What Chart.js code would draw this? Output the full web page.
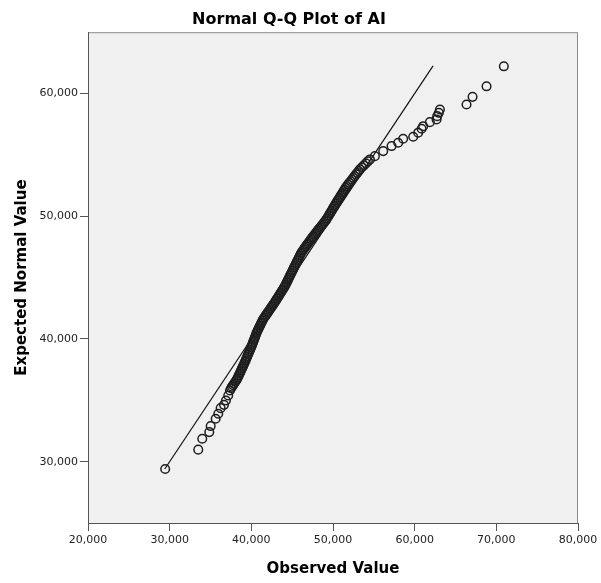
<!DOCTYPE html>
<html lang="en">
<head>
    <meta charset="UTF-8">
    <title>Normal Q-Q Plot of AI</title>
    <script src="https://cdn.jsdelivr.net/npm/chart.js"></script>
    <style>
        body { margin: 0; background: #fff; }
        #qqChart { display: block; }
    </style>
</head>
<body>
    <canvas id="qqChart" width="601" height="583"></canvas>

    <script>
// Valores observados (eixo X)
const observedValues = [
    29450, 33500, 33990, 34850, 35020, 35630, 35950, 36240, 36650, 36890, 37170, 37380,
    37510, 37640, 37770, 37890, 38020, 38150, 38270,
    38370, 38460, 38560, 38650, 38750, 38840, 38940, 39030, 39120, 39220,
    39310, 39400, 39490, 39580, 39670, 39770, 39860, 39950, 40040,
    40120, 40200, 40280, 40360, 40440, 40520, 40600, 40690,
    40780, 40880, 40970, 41070, 41170, 41260, 41360, 41460,
    41590, 41720, 41850, 41980, 42110, 42240, 42370, 42500, 42630, 42760, 42890,
    43010, 43130, 43260, 43380, 43500, 43620, 43750, 43870, 43990, 44110,
    44220, 44320, 44420, 44520, 44620, 44720, 44820, 44930, 45030, 45130,
    45230, 45330, 45440, 45540, 45640, 45750, 45850, 45950, 46050, 46160,
    46290, 46420, 46540, 46670, 46800, 46930, 47060, 47190, 47320, 47450, 47580,
    47720, 47860, 48000, 48140, 48280, 48430, 48570, 48710, 48850, 48990, 49130,
    49250, 49370, 49490, 49610, 49730, 49850, 49960, 50080, 50200, 50320, 50440,
    50560, 50690, 50810, 50930, 51050, 51180, 51300, 51420, 51540, 51670,
    51830, 51990, 52160, 52320, 52480, 52640, 52810, 52970, 53130, 53290,
    53540, 53780, 54030, 54270, 54520,
    55130, 56150, 57170, 57980, 58590, 59820, 60430, 60850, 61040, 61860, 62680, 62760, 62960, 63090,
    66350, 67090, 68800, 70920
];

// Valores normais esperados (eixo Y)
const expectedValues = [
    29400, 30980, 31870, 32410, 32900, 33500, 33900, 34360, 34630, 34980, 35390, 35800,
    35980, 36110, 36240, 36360, 36490, 36620, 36750,
    36890, 37030, 37160, 37300, 37440, 37580, 37720, 37850, 37990, 38130,
    38270, 38420, 38560, 38710, 38850, 38990, 39140, 39290, 39430,
    39570, 39720, 39860, 40000, 40140, 40280, 40430, 40570,
    40700, 40830, 40970, 41100, 41230, 41360, 41490, 41630,
    41750, 41880, 42000, 42130, 42250, 42380, 42510, 42630, 42760, 42880, 43010,
    43140, 43270, 43400, 43530, 43660, 43790, 43920, 44050, 44180, 44310,
    44450, 44590, 44720, 44860, 45000, 45140, 45280, 45420, 45550, 45690,
    45830, 45970, 46110, 46240, 46380, 46520, 46660, 46800, 46940, 47070,
    47190, 47310, 47430, 47550, 47670, 47780, 47900, 48020, 48140, 48260, 48370,
    48490, 48610, 48730, 48850, 48970, 49080, 49200, 49320, 49440, 49560, 49680,
    49810, 49940, 50070, 50210, 50340, 50470, 50610, 50740, 50870, 51010, 51140,
    51270, 51400, 51530, 51660, 51790, 51920, 52050, 52180, 52310, 52440,
    52580, 52720, 52850, 52990, 53130, 53270, 53410, 53540, 53680, 53820,
    53990, 54150, 54310, 54470, 54630,
    54900, 55310, 55720, 55990, 56320, 56480, 56810, 57130, 57340, 57670, 57890, 58160, 58430, 58700,
    59110, 59730, 60590, 62220
];

// Extremos da linha de referência (y = x)
const referenceLine = [29400, 62250];

// Marcas dos eixos
const xTicks = [20000, 30000, 40000, 50000, 60000, 70000, 80000];
const yTicks = [30000, 40000, 50000, 60000];
const xRange = [20000, 80000];
const yRange = [25000, 65000];

const points = observedValues.map((v, i) => ({ x: v, y: expectedValues[i] }));
const linePoints = referenceLine.map(v => ({ x: v, y: v }));

// Fundo cinza e moldura da área do gráfico
const plotFrame = {
    id: 'plotFrame',
    beforeDraw(chart) {
        const { ctx, chartArea: a } = chart;
        ctx.save();
        ctx.fillStyle = '#f0f0f0';
        ctx.fillRect(a.left, a.top, a.right - a.left, a.bottom - a.top);
        ctx.strokeStyle = '#8c8c8c';
        ctx.lineWidth = 1;
        ctx.strokeRect(a.left + 0.5, a.top + 0.5, a.right - a.left - 1, a.bottom - a.top);
        ctx.restore();
    }
};

const tickFont = { family: 'DejaVu Sans', size: 11 };
const titleFont = { family: 'DejaVu Sans', size: 15, weight: 'bold', lineHeight: 1.2 };

new Chart(document.getElementById('qqChart'), {
    type: 'scatter',
    data: {
        datasets: [
            {
                data: points,
                pointStyle: 'circle',
                pointRadius: 4.3,
                pointHoverRadius: 4.3,
                borderWidth: 1.5,
                borderColor: '#1e1e1e',
                backgroundColor: 'rgba(0,0,0,0)'
            },
            {
                data: linePoints,
                showLine: true,
                pointRadius: 0,
                borderWidth: 1.2,
                borderColor: '#111'
            }
        ]
    },
    options: {
        responsive: false,
        animation: false,
        layout: { padding: { top: 0, right: 23, bottom: 0, left: 0 } },
        plugins: {
            legend: { display: false },
            tooltip: { enabled: false },
            title: {
                display: true,
                text: 'Normal Q-Q Plot of AI',
                color: '#000',
                font: { family: 'DejaVu Sans', size: 16, weight: 'bold', lineHeight: 1.2 },
                padding: { top: 10, bottom: 3 }
            }
        },
        scales: {
            x: {
                type: 'linear',
                min: xRange[0],
                max: xRange[1],
                afterBuildTicks: s => { s.ticks = xTicks.map(v => ({ value: v })); },
                afterFit: s => { s.height = 60; },
                grid: { drawOnChartArea: false, drawTicks: true, tickLength: 8, color: '#555' },
                border: { display: true, color: '#555', width: 1 },
                ticks: {
                    callback: v => v.toLocaleString('en-US'),
                    font: tickFont,
                    color: '#222',
                    padding: 3,
                    maxRotation: 0,
                    autoSkip: false
                },
                title: {
                    display: true,
                    text: 'Observed Value',
                    color: '#000',
                    font: titleFont,
                    padding: { top: 0, bottom: 5 }
                }
            },
            y: {
                type: 'linear',
                min: yRange[0],
                max: yRange[1],
                afterBuildTicks: s => { s.ticks = yTicks.map(v => ({ value: v })); },
                afterFit: s => { s.width = 88; },
                grid: { drawOnChartArea: false, drawTicks: true, tickLength: 8, color: '#555' },
                border: { display: true, color: '#555', width: 1 },
                ticks: {
                    callback: v => v.toLocaleString('en-US'),
                    font: tickFont,
                    color: '#222',
                    padding: 2,
                    autoSkip: false
                },
                title: {
                    display: true,
                    text: 'Expected Normal Value',
                    color: '#000',
                    font: titleFont,
                    padding: { top: 13, bottom: 0 }
                }
            }
        }
    },
    plugins: [plotFrame]
});
    </script>
</body>
</html>
